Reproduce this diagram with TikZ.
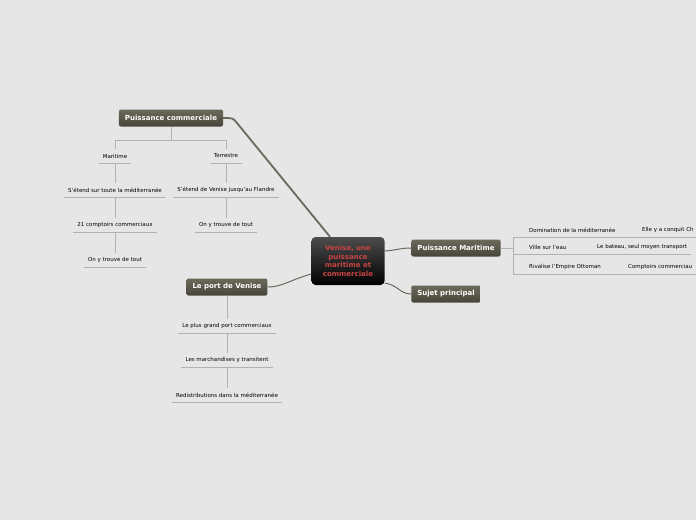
\documentclass[tikz,border=0pt]{standalone}
\usepackage{fontspec}
\setmainfont{DejaVu Sans}

\definecolor{bgc}{HTML}{E6E6E6}
\definecolor{topictop}{HTML}{6B6A5A}
\definecolor{topicbot}{HTML}{46453A}
\definecolor{linec}{HTML}{B3B3AB}
\definecolor{mainc}{HTML}{6A695C}
\definecolor{redtxt}{HTML}{C94444}

\tikzset{
  topic/.style={rounded corners=2pt, top color=topictop, bottom color=topicbot, text=white,
    font=\fontsize{7}{8}\selectfont\bfseries, minimum height=17pt, inner xsep=6pt},
  leaf/.style={font=\fontsize{5.5}{6}\selectfont, minimum height=14pt, inner xsep=4pt, inner ysep=0pt},
  uline/.style={draw=linec, line width=0.9pt},
  mainline/.style={draw=mainc, line width=1.8pt},
  midline/.style={draw=mainc, line width=1pt},
}

\begin{document}
\begin{tikzpicture}[x=1pt,y=-1pt]

\fill[bgc] (0,0) rectangle (696,520);
\useasboundingbox (0,0) rectangle (696,520);

% sujet central
\node[rounded corners=4pt, top color=black!70, bottom color=black, minimum width=73pt, minimum height=48pt,
  align=center, text=redtxt, font=\fontsize{7}{8.5}\selectfont\bfseries, inner sep=1pt] (vn) at (348,261)
  {Venise, une\\puissance\\maritime et\\commerciale};

\node[topic] (pc) at (171,118) {Puissance commerciale};
\node[topic] (pt) at (227,287) {Le port de Venise};
\node[topic] (pm) at (456,248) {Puissance Maritime};
\node[topic] (sp) at (446,294) {Sujet principal};

\coordinate (bend) at (237,123);
\draw[mainline] ([xshift=-18pt]vn.north) -- (bend) .. controls (233,118) .. (pc.east);
\draw[midline] ([yshift=-13pt]vn.west) .. controls (290,280) and (282,287) .. (pt.east);
\draw[midline] ([yshift=10pt]vn.east) .. controls (398,250) and (400,248) .. (pm.west);
\draw[midline] ([yshift=-22pt]vn.east) .. controls (398,285) and (400,294) .. (sp.west);

% puissance commerciale
\node[leaf] (mar) at (115,156) {Maritime};
\node[leaf] (m1) at (115,190) {S'étend sur toute la méditerranée};
\node[leaf] (m2) at (115,225) {21 comptoirs commerciaux};
\node[leaf] (m3) at (115,260) {On y trouve de tout};
\node[leaf] (ter) at (226,156) {Terrestre};
\node[leaf] (t1) at (226,190) {S'étend de Venise jusqu'au Flandre};
\node[leaf] (t2) at (226,225) {On y trouve de tout};

\draw[uline] (pc.south) -- ++(0,14) coordinate (fork);
\draw[uline] (fork) -| (mar.north);
\draw[uline] (fork) -| (ter.north);
\draw[uline] (mar.south) -- (m1.north);
\draw[uline] (m1.south) -- (m2.north);
\draw[uline] (m2.south) -- (m3.north);
\draw[uline] (ter.south) -- (t1.north);
\draw[uline] (t1.south) -- (t2.north);

% le port
\node[leaf] (p1) at (227,326) {Le plus grand port commerciaux};
\node[leaf] (p2) at (227,360) {Les marchandises y transitent};
\node[leaf] (p3) at (227,395) {Redistributions dans la méditerranée};

\draw[uline] (pt.south) -- (p1.north);
\draw[uline] (p1.south) -- (p2.north);
\draw[uline] (p2.south) -- (p3.north);

\foreach \n in {mar,m1,m2,m3,ter,t1,t2,p1,p2,p3}
  \draw[uline] (\n.south west) -- (\n.south east);

% puissance maritime
\node[leaf, anchor=west] (d1) at (525,230) {Domination de la méditerranée};
\node[leaf, anchor=west] (e1) at (638,230) {Elle y a conquit Ch};
\node[leaf, anchor=west] (d2) at (525,247) {Ville sur l'eau};
\node[leaf, anchor=west] (e2) at (593,247) {Le bateau, seul moyen transport};
\node[leaf, anchor=west] (d3) at (525,267) {Rivalise l'Empire Ottoman};
\node[leaf, anchor=west] (e3) at (624,267) {Comptoirs commerciau};

\coordinate (br) at (513,248);
\draw[uline] (pm.east) -- (br);
\draw[uline] (br |- d1.south) -- (br |- d3.south);
\draw[uline] (br |- d1.south) -- (d1.south east) -- (e1.south east);
\draw[uline] (br |- d2.south) -- (d2.south east) -- (e2.south east);
\draw[uline] (br |- d3.south) -- (d3.south east) -- (e3.south east);

\end{tikzpicture}
\end{document}
